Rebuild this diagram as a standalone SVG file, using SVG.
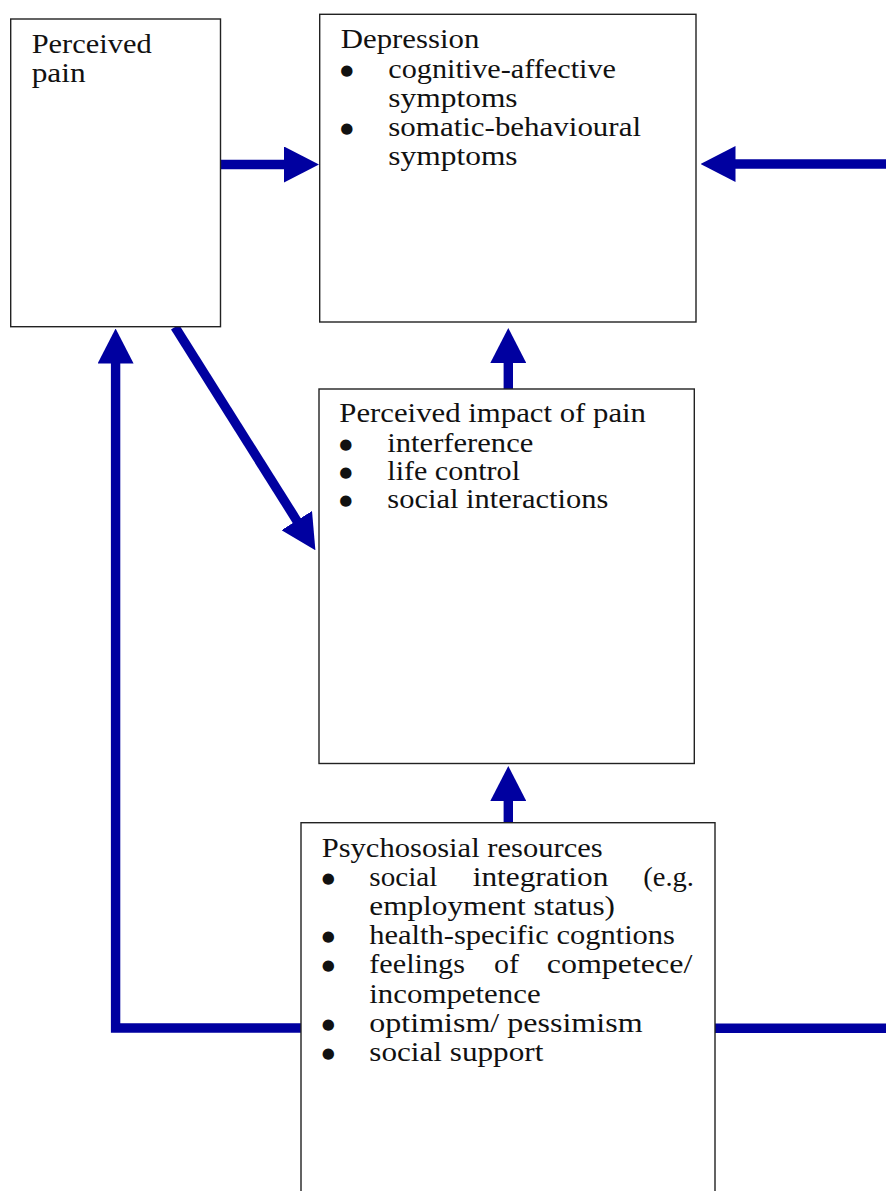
<svg xmlns="http://www.w3.org/2000/svg" width="886" height="1191" viewBox="0 0 886 1191">
  <style>
    .box { fill: #ffffff; stroke: #222222; stroke-width: 1.4; }
    .lbl { font-family: "Liberation Serif", "Times New Roman", serif; font-size: 27px; fill: #111111; }
    .bul { font-family: "DejaVu Sans", sans-serif; font-size: 15px; fill: #111111; text-anchor: middle; }
    .wire { fill: none; stroke: #0000A0; stroke-width: 9.4; stroke-linejoin: miter; }
  </style>
  <defs>
    <marker id="head" markerUnits="userSpaceOnUse" viewBox="0 0 35 36" markerWidth="35" markerHeight="36" refX="1" refY="18" orient="auto">
      <path d="M0,0 L35,18 L0,36 Z" fill="#0000A0"/>
    </marker>
  </defs>

  <rect width="886" height="1191" fill="#ffffff"/>

  <!-- connectors -->
  <g id="connectors">
    <line class="wire" x1="220.5" y1="164.5" x2="285" y2="164.5" marker-end="url(#head)"/>
    <line class="wire" x1="886" y1="164" x2="734.5" y2="164" marker-end="url(#head)"/>
    <line class="wire" x1="508.3" y1="389" x2="508.3" y2="362" marker-end="url(#head)"/>
    <line class="wire" x1="508.3" y1="823" x2="508.3" y2="800" marker-end="url(#head)"/>
    <line class="wire" x1="175" y1="327" x2="297.3" y2="521.4" marker-end="url(#head)"/>
    <polyline class="wire" points="301,1028 115.6,1028 115.6,362.5" marker-end="url(#head)"/>
    <line class="wire" x1="715" y1="1028.3" x2="886" y2="1028.3"/>
  </g>

  <!-- Perceived pain -->
  <g id="perceived-pain">
    <rect class="box" x="10.7" y="19" width="209.8" height="307.7"/>
    <text class="lbl" x="31.7" y="53" textLength="120" lengthAdjust="spacingAndGlyphs">Perceived</text>
    <text class="lbl" x="31.7" y="82" textLength="54" lengthAdjust="spacingAndGlyphs">pain</text>
  </g>

  <!-- Depression -->
  <g id="depression">
    <rect class="box" x="319.7" y="14.3" width="376.3" height="307.7"/>
    <text class="lbl" x="340.7" y="48.3" textLength="138.7" lengthAdjust="spacingAndGlyphs">Depression</text>
    <text class="bul" x="346.7" y="75">●</text>
    <text class="lbl" x="388.3" y="78" textLength="227.7" lengthAdjust="spacingAndGlyphs">cognitive-affective</text>
    <text class="lbl" x="388.3" y="106.7" textLength="129.3" lengthAdjust="spacingAndGlyphs">symptoms</text>
    <text class="bul" x="346.7" y="133">●</text>
    <text class="lbl" x="388.3" y="136" textLength="252.7" lengthAdjust="spacingAndGlyphs">somatic-behavioural</text>
    <text class="lbl" x="388.3" y="165" textLength="129.3" lengthAdjust="spacingAndGlyphs">symptoms</text>
  </g>

  <!-- Perceived impact of pain -->
  <g id="perceived-impact">
    <rect class="box" x="319" y="389" width="375.3" height="374.5"/>
    <text class="lbl" x="339.3" y="421.7" textLength="306.7" lengthAdjust="spacingAndGlyphs">Perceived impact of pain</text>
    <text class="bul" x="345.7" y="448.7">●</text>
    <text class="lbl" x="387.3" y="451.7" textLength="146" lengthAdjust="spacingAndGlyphs">interference</text>
    <text class="bul" x="345.7" y="477">●</text>
    <text class="lbl" x="387.3" y="480" textLength="132.7" lengthAdjust="spacingAndGlyphs">life control</text>
    <text class="bul" x="345.7" y="505">●</text>
    <text class="lbl" x="387.3" y="508" textLength="221" lengthAdjust="spacingAndGlyphs">social interactions</text>
  </g>

  <!-- Psychososial resources -->
  <g id="psychosocial-resources">
    <rect class="box" x="301" y="822.7" width="414" height="380"/>
    <text class="lbl" x="321.7" y="856.7" textLength="281" lengthAdjust="spacingAndGlyphs">Psychososial resources</text>
    <text class="bul" x="328.3" y="883">●</text>
    <text class="lbl" x="369.3" y="886" textLength="68" lengthAdjust="spacingAndGlyphs">social</text>
    <text class="lbl" x="472.7" y="886" textLength="135.7" lengthAdjust="spacingAndGlyphs">integration</text>
    <text class="lbl" x="643.3" y="886" textLength="50.7" lengthAdjust="spacingAndGlyphs">(e.g.</text>
    <text class="lbl" x="369.3" y="915" textLength="245.7" lengthAdjust="spacingAndGlyphs">employment status)</text>
    <text class="bul" x="328.3" y="941">●</text>
    <text class="lbl" x="369.3" y="944" textLength="305.7" lengthAdjust="spacingAndGlyphs">health-specific cogntions</text>
    <text class="bul" x="328.3" y="970.3">●</text>
    <text class="lbl" x="369.3" y="973.3" textLength="95.7" lengthAdjust="spacingAndGlyphs">feelings</text>
    <text class="lbl" x="494" y="973.3" textLength="25" lengthAdjust="spacingAndGlyphs">of</text>
    <text class="lbl" x="546.7" y="973.3" textLength="145.7" lengthAdjust="spacingAndGlyphs">competece/</text>
    <text class="lbl" x="369.3" y="1002.7" textLength="171.3" lengthAdjust="spacingAndGlyphs">incompetence</text>
    <text class="bul" x="328.3" y="1028.7">●</text>
    <text class="lbl" x="369.3" y="1031.7" textLength="273.3" lengthAdjust="spacingAndGlyphs">optimism/ pessimism</text>
    <text class="bul" x="328.3" y="1058">●</text>
    <text class="lbl" x="369.3" y="1061" textLength="174" lengthAdjust="spacingAndGlyphs">social support</text>
  </g>
</svg>
